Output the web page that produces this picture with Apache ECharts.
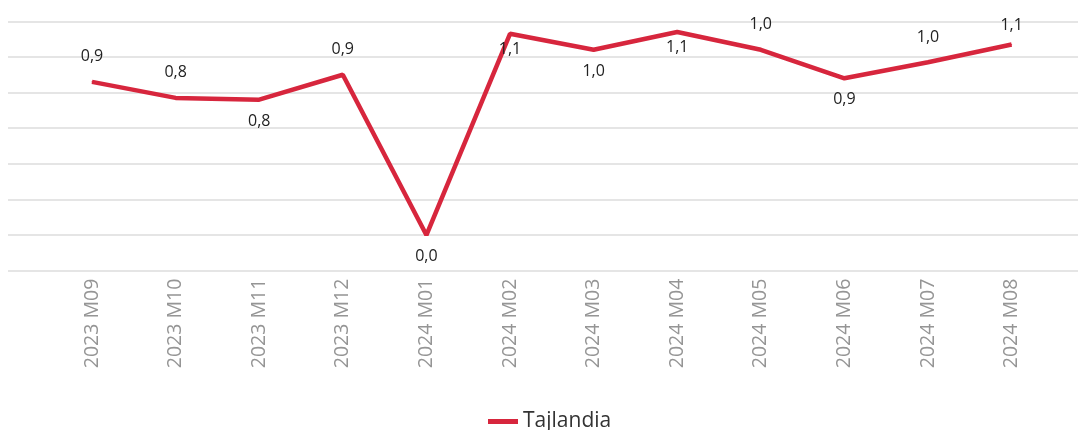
<!DOCTYPE html>
<html>
<head>
<meta charset="utf-8">
<script src="https://cdn.jsdelivr.net/npm/echarts@6/dist/echarts.min.js"></script>
<style>html,body{margin:0;padding:0;background:#fff}#c{width:1081px;height:430px}</style>
</head>
<body>
<div id="c"></div>
<script>
const categories = ['2023 M09','2023 M10','2023 M11','2023 M12','2024 M01','2024 M02','2024 M03','2024 M04','2024 M05','2024 M06','2024 M07','2024 M08'];
const seriesName = 'Tajlandia';
const values = [0.86, 0.77, 0.76, 0.90, 0.00, 1.13, 1.04, 1.14, 1.04, 0.88, 0.97, 1.07];
const yMin = -0.2, yMax = 1.2, yInterval = 0.2;

// label placement (style only)
const labelPlace = [['top',17],['top',17],['bottom',13],['top',17],['bottom',13],['bottom',7],['bottom',13],['bottom',7],['top',17],['bottom',13],['top',16],['top',11]];

const chart = echarts.init(document.getElementById('c'), null, {renderer:'canvas'});
const fmt = v => v.toFixed(1).replace('.', ',');
const gTop = 21.3, gH = 249.4;
chart.setOption({
  animation: false,
  backgroundColor: '#fff',
  grid: [
    {left: 8, right: 3, top: gTop, height: gH},
    {left: 50.2, width: 1003.2, top: gTop, height: gH}
  ],
  xAxis: [
    {gridIndex: 0, type: 'category', data: categories, show: false},
    {gridIndex: 1, type: 'category', data: categories, boundaryGap: true,
     axisLine: {show: false}, axisTick: {show: false}, splitLine: {show: false},
     axisLabel: {rotate: 90, margin: 8, color: '#959595', fontSize: 19.5, fontFamily: 'Open Sans', interval: 0}}
  ],
  yAxis: [
    {gridIndex: 0, type: 'value', min: yMin, max: yMax, interval: yInterval,
     axisLabel: {show: false}, axisLine: {show: false}, axisTick: {show: false},
     splitLine: {show: true, lineStyle: {color: '#dcdcdc', width: 1.5}}},
    {gridIndex: 1, type: 'value', min: yMin, max: yMax, interval: yInterval, show: false,
     splitLine: {show: false}}
  ],
  legend: {
    left: 483, top: 406, icon: 'rect', itemWidth: 30, itemHeight: 5, itemGap: 8,
    textStyle: {color: '#333', fontSize: 21, fontFamily: 'Open Sans'},
    data: [seriesName]
  },
  series: [{
    name: seriesName, type: 'line', xAxisIndex: 1, yAxisIndex: 1,
    data: values.map((v, i) => ({value: v, label: {position: labelPlace[i][0], distance: labelPlace[i][1]}})),
    symbol: 'circle', symbolSize: 1, showSymbol: true,
    lineStyle: {color: '#D7263D', width: 4.5},
    itemStyle: {color: '#D7263D'},
    label: {show: true, color: '#222', fontSize: 16, fontFamily: 'Open Sans', formatter: p => fmt(p.value)}
  }]
});
</script>
</body>
</html>
